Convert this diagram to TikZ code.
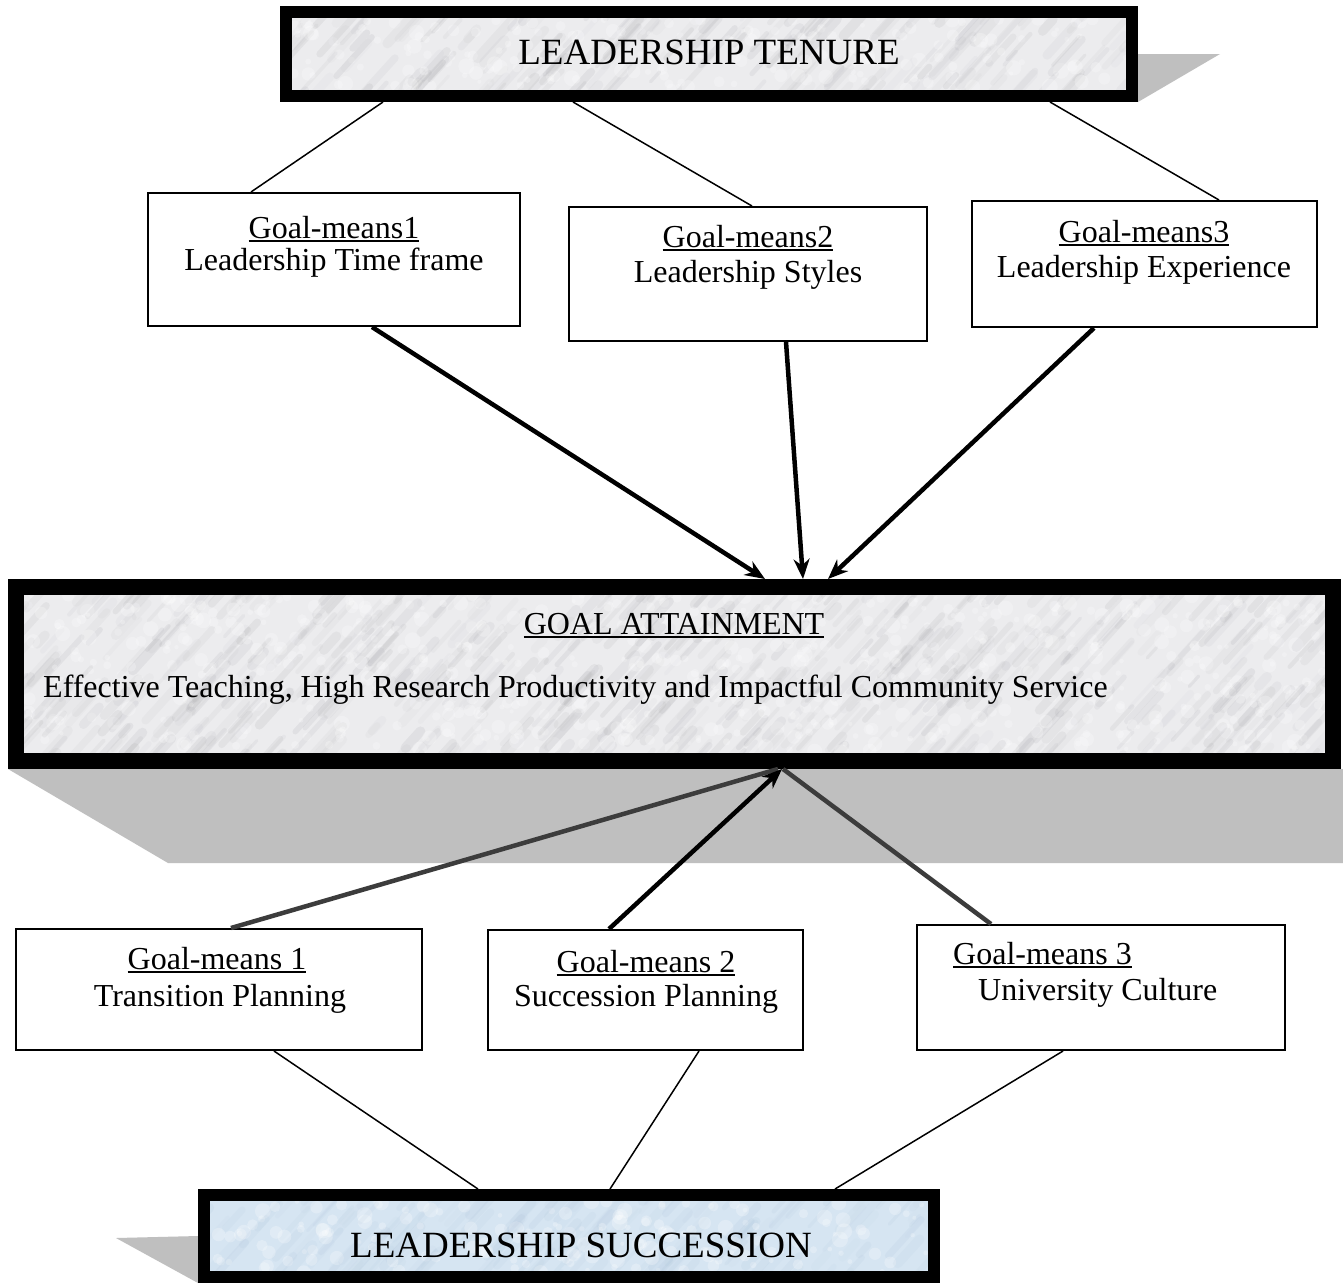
\documentclass[tikz,border=0pt]{standalone}
\usepackage{fontspec}
\setmainfont{Liberation Serif}
\usetikzlibrary{arrows.meta,calc}
\definecolor{shadowgray}{HTML}{BFBFBF}
\definecolor{marblebase}{HTML}{ECECEE}
\definecolor{marblevein}{HTML}{8C8C92}
\definecolor{bluebase}{HTML}{D6E5F2}
\definecolor{bluevein}{HTML}{9FB8D2}
\definecolor{darkline}{HTML}{3C3C3C}
\newcommand\myul[1]{\begingroup\setbox0\hbox{#1}\rlap{\rule[-4pt]{\wd0}{1.8pt}}\box0\endgroup}
\newcommand\marblefill[7]{%
  \begin{scope}
    \clip (#1,#2) rectangle ++(#3,#4);
    \fill[#6] (#1,#2) rectangle ++(#3,#4);
    \foreach \k in {1,...,#5}{
      \pgfmathsetmacro\sx{#1-40+rnd*(#3+40)}
      \pgfmathsetmacro\sy{#2+rnd*(#4+30)}
      \pgfmathsetmacro\sl{8+rnd*30}
      \pgfmathsetmacro\sw{3+rnd*7}
      \pgfmathsetmacro\so{0.03+rnd*0.09}
      \draw[line width=\sw pt, #7, opacity=\so, line cap=round] (\sx,\sy) -- ++(\sl,-1.1*\sl);
      \pgfmathsetmacro\bx{#1+rnd*#3}
      \pgfmathsetmacro\by{#2+rnd*#4}
      \pgfmathsetmacro\br{2+rnd*6}
      \fill[white, opacity=0.25] (\bx,\by) circle[radius=\br pt];
    }
  \end{scope}}
\tikzset{
  smallbox/.style={rectangle, draw=black, line width=2pt, fill=white, inner sep=0pt},
  framebox/.style={rectangle, draw=black, fill=none, inner sep=0pt},
  boxtext/.style={font=\fontsize{32}{36}\selectfont, inner sep=0pt, anchor=base},
  titletext/.style={font=\fontsize{37}{42}\selectfont, inner sep=0pt, anchor=base},
  thinline/.style={line width=1.5pt, black},
  thickarrow/.style={line width=4.5pt, -{Stealth[length=20pt,width=16pt]}},
  thickline/.style={line width=4.5pt},
}
\begin{document}
\begin{tikzpicture}[x=1pt,y=-1pt]
\useasboundingbox (0,0) rectangle (1343,1283);
\fill[white] (0,0) rectangle (1343,1283);
\pgfmathsetseed{11}
% shadows
\fill[shadowgray] (1138,54) -- (1220,54) -- (1138,102) -- cycle;
\fill[shadowgray] (8,769) -- (1343,769) -- (1343,863) -- (168,863) -- cycle;
\fill[shadowgray] (116,1238) -- (198,1236) -- (198,1283) -- cycle;
% textured fills
\marblefill{292}{18}{834}{72}{200}{marblebase}{marblevein}
\marblefill{24}{595}{1301}{158}{650}{marblebase}{marblevein}
\marblefill{210}{1201}{718}{72}{170}{bluebase}{bluevein}
% big frames
\node[framebox, line width=12pt, minimum width=846pt, minimum height=84pt] (tenure) at (709,54) {};
\node[framebox, line width=16pt, minimum width=1317pt, minimum height=174pt] (goal) at (674.5,674) {};
\node[framebox, line width=12pt, minimum width=730pt, minimum height=82pt] (succ) at (569,1236) {};
% titles
\node[titletext] (tenuret) at (709,64) {LEADERSHIP TENURE};
\node[boxtext] (goalt) at (674,634) {\myul{GOAL ATTAINMENT}};
\node[boxtext, anchor=base west] (goald) at (43,697) {Effective Teaching, High Research Productivity and Impactful Community Service};
\node[titletext] (succt) at (581,1257) {LEADERSHIP SUCCESSION};
% small boxes
\node[smallbox, minimum width=372pt, minimum height=133pt] (b1) at (334,259.5) {};
\node[smallbox, minimum width=358pt, minimum height=134pt] (b2) at (748,274) {};
\node[smallbox, minimum width=345pt, minimum height=126pt] (b3) at (1144.5,264) {};
\node[smallbox, minimum width=406pt, minimum height=121pt] (b4) at (219,989.5) {};
\node[smallbox, minimum width=315pt, minimum height=120pt] (b5) at (645.5,990) {};
\node[smallbox, minimum width=368pt, minimum height=125pt] (b6) at (1101,987.5) {};
% small box texts
\node[boxtext] (b1a) at (334,238) {\myul{Goal-means1}};
\node[boxtext] (b1b) at (334,270) {Leadership Time frame};
\node[boxtext] (b2a) at (748,247) {\myul{Goal-means2}};
\node[boxtext] (b2b) at (748,282) {Leadership Styles};
\node[boxtext] (b3a) at (1144,242) {\myul{Goal-means3}};
\node[boxtext] (b3b) at (1144,277) {Leadership Experience};
\node[boxtext] (b4a) at (217,969) {\myul{Goal-means 1}};
\node[boxtext] (b4b) at (220,1006) {Transition Planning};
\node[boxtext] (b5a) at (646,972) {\myul{Goal-means 2}};
\node[boxtext] (b5b) at (646,1006) {Succession Planning};
\node[boxtext, anchor=base west] (b6a) at (953,964) {\myul{Goal-means 3}};
\node[boxtext, anchor=base west] (b6b) at (978,1000) {University Culture};
% thin connectors top
\draw[thinline] ([xshift=103pt]tenure.south west) -- ([xshift=104pt]b1.north west);
\draw[thinline] ([xshift=293pt]tenure.south west) -- ([xshift=184pt]b2.north west);
\draw[thinline] ([xshift=770pt]tenure.south west) -- ([xshift=248pt]b3.north west);
% thick arrows into goal
\draw[thickarrow] ([xshift=225pt]b1.south west) -- ([xshift=757pt]goal.north west);
\draw[thickarrow] ([xshift=218pt]b2.south west) -- ([xshift=795pt]goal.north west);
\draw[thickarrow] ([xshift=123pt]b3.south west) -- ([xshift=820pt]goal.north west);
% thick connectors from bottom boxes
\draw[thickline, darkline] ([xshift=216pt]b4.north west) -- ([xshift=770pt]goal.south west);
\draw[thickline, darkline] ([xshift=75pt]b6.north west) -- ([xshift=775pt]goal.south west);
\draw[thickarrow] ([xshift=122pt]b5.north west) -- ([xshift=774pt]goal.south west);
% thin connectors bottom
\draw[thinline] ([xshift=259pt]b4.south west) -- ([xshift=280pt]succ.north west);
\draw[thinline] ([xshift=212pt]b5.south west) -- ([xshift=412pt]succ.north west);
\draw[thinline] ([xshift=147pt]b6.south west) -- ([xshift=637pt]succ.north west);
\end{tikzpicture}
\end{document}
